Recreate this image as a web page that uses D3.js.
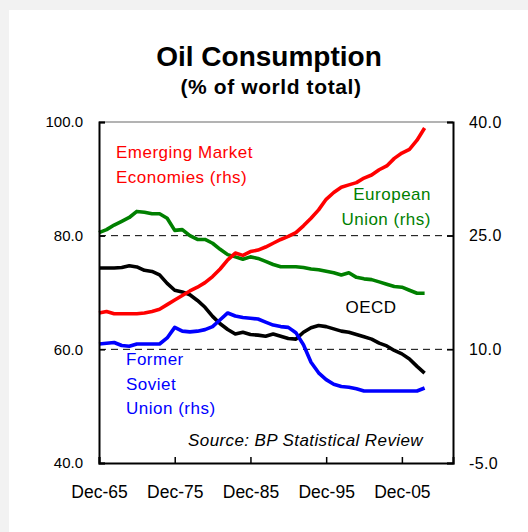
<!DOCTYPE html>
<html>
<head>
<meta charset="utf-8">
<script src="https://cdn.jsdelivr.net/npm/d3@7"></script>
<style>
  html, body { margin: 0; padding: 0; background: #f2f2f2; }
  #chartWrapper { width: 528px; height: 532px; }
  text { font-family: "Liberation Sans", Arial, sans-serif; }
</style>
</head>
<body>
<div id="chartWrapper"></div>
<script>

// chart data
const years = [1965, 1966, 1967, 1968, 1969, 1970, 1971, 1972, 1973, 1974,
  1975, 1976, 1977, 1978, 1979, 1980, 1981, 1982, 1983, 1984,
  1985, 1986, 1987, 1988, 1989, 1990, 1991, 1992, 1993, 1994,
  1995, 1996, 1997, 1998, 1999, 2000, 2001, 2002, 2003, 2004,
  2005, 2006, 2007, 2008]

// OECD, left hand scale
const oecd = [74.3, 74.3, 74.3, 74.4, 74.7, 74.5, 73.9, 73.7, 73.1, 71.6,
  70.4, 70.1, 69.6, 68.6, 67.4, 65.8, 64.5, 63.5, 62.7, 63.0,
  62.6, 62.5, 62.3, 62.7, 62.3, 61.9, 61.8, 63.0, 63.8, 64.2,
  64.0, 63.6, 63.2, 63.0, 62.6, 62.2, 61.8, 61.1, 60.6, 59.8,
  59.2, 58.3, 57.0, 55.8]

// right hand scale series
const emerging = [14.8, 15.0, 14.7, 14.7, 14.7, 14.7, 14.8, 15.0, 15.3, 15.9,
  16.5, 17.1, 17.7, 18.2, 18.8, 19.6, 20.6, 21.8, 22.7, 22.4,
  22.9, 23.1, 23.5, 24.0, 24.5, 24.9, 25.4, 26.3, 27.3, 28.4,
  29.8, 30.7, 31.4, 31.7, 32.0, 32.6, 33.0, 33.7, 34.2, 35.2,
  35.9, 36.4, 37.6, 39.2]

const europeanUnion = [25.4, 25.8, 26.4, 26.9, 27.4, 28.2, 28.1, 27.9, 27.9, 27.3,
  25.7, 25.8, 25.0, 24.5, 24.5, 24.0, 23.2, 22.5, 22.2, 21.9,
  22.2, 22.0, 21.6, 21.2, 20.9, 20.9, 20.9, 20.8, 20.6, 20.5,
  20.3, 20.1, 19.8, 20.1, 19.5, 19.3, 19.2, 18.9, 18.6, 18.3,
  18.2, 17.8, 17.4, 17.4]

const formerSoviet = [10.7, 10.8, 10.9, 10.5, 10.4, 10.7, 10.7, 10.7, 10.7, 11.5,
  12.9, 12.4, 12.3, 12.4, 12.6, 13.0, 13.9, 14.8, 14.4, 14.2,
  14.1, 14.0, 13.6, 13.2, 13.0, 12.9, 12.2, 10.6, 8.3, 6.9,
  6.0, 5.4, 5.1, 5.0, 4.8, 4.5, 4.5, 4.5, 4.5, 4.5,
  4.5, 4.5, 4.5, 4.9]

const xTickYears = [1965, 1975, 1985, 1995, 2005]
const xTickLabels = ["Dec-65", "Dec-75", "Dec-85", "Dec-95", "Dec-05"]
const leftTicks = [40, 60, 80, 100]
const rightTicks = [-5, 10, 25, 40]
const gridTicks = [60, 80]

function drawChart() {

  // 1. Dimensions
  let dimensions = {
    width: 528,
    height: 532,
    margin: {
      top: 122,
      right: 75,
      bottom: 69,
      left: 99,
    },
  }
  dimensions.boundedWidth = dimensions.width - dimensions.margin.left - dimensions.margin.right
  dimensions.boundedHeight = dimensions.height - dimensions.margin.top - dimensions.margin.bottom

  // 2. Canvas
  const wrapper = d3.select("#chartWrapper")
    .append("svg")
      .attr("width", dimensions.width)
      .attr("height", dimensions.height)

  wrapper.append("rect")
    .attr("width", dimensions.width)
    .attr("height", dimensions.height)
    .attr("fill", "#f2f2f2")

  wrapper.append("rect")
    .attr("x", 9)
    .attr("y", 10)
    .attr("width", dimensions.width - 9)
    .attr("height", dimensions.height - 10)
    .attr("fill", "#ffffff")

  wrapper.append("text")
    .attr("x", 269)
    .attr("y", 66)
    .attr("text-anchor", "middle")
    .style("font-size", "28px")
    .style("font-weight", "bold")
    .text("Oil Consumption")

  wrapper.append("text")
    .attr("x", 271)
    .attr("y", 94)
    .attr("text-anchor", "middle")
    .style("font-size", "21px")
    .style("font-weight", "bold")
    .style("letter-spacing", "0.6px")
    .text("(% of world total)")

  const bounds = wrapper.append("g")
    .attr("transform", `translate(${dimensions.margin.left}, ${dimensions.margin.top})`)

  // 3. Scales
  const xScale = d3.scaleLinear()
    .domain([1965, 2011.75])
    .range([0, dimensions.boundedWidth])

  const yLeft = d3.scaleLinear()
    .domain([40, 100])
    .range([dimensions.boundedHeight, 0])

  const yRight = d3.scaleLinear()
    .domain([-5, 40])
    .range([dimensions.boundedHeight, 0])

  // 4. Gridlines + frame
  bounds.append("g")
    .selectAll("line")
    .data(gridTicks)
    .join("line")
      .attr("x1", 0)
      .attr("x2", dimensions.boundedWidth)
      .attr("y1", d => yLeft(d))
      .attr("y2", d => yLeft(d))
      .attr("stroke", "#000")
      .attr("stroke-width", 1)
      .attr("stroke-dasharray", "7,5")

  bounds.append("line")
    .attr("x1", 0)
    .attr("x2", dimensions.boundedWidth)
    .attr("y1", 0)
    .attr("y2", 0)
    .attr("stroke", "#9a9a9a")
    .attr("stroke-width", 1.5)

  // 5. Lines
  const lineFor = scale => d3.line()
    .x((d, i) => xScale(years[i]))
    .y(d => scale(d))

  const series = [
    {values: oecd, scale: yLeft, color: "#000000"},
    {values: europeanUnion, scale: yRight, color: "#008000"},
    {values: emerging, scale: yRight, color: "#ff0000"},
    {values: formerSoviet, scale: yRight, color: "#0000ff"},
  ]

  bounds.append("g")
    .selectAll("path")
    .data(series)
    .join("path")
      .attr("d", d => lineFor(d.scale)(d.values))
      .attr("fill", "none")
      .attr("stroke", d => d.color)
      .attr("stroke-width", 3.6)
      .attr("stroke-linejoin", "round")

  // 6. Axes
  const oneDecimal = d => d.toFixed(1)   // plain hyphen for "-5.0"

  const leftAxis = d3.axisLeft(yLeft)
    .tickValues(leftTicks)
    .tickFormat(oneDecimal)
    .tickSize(-6)
    .tickPadding(16)

  const leftAxisGroup = bounds.append("g").call(leftAxis)

  const rightAxis = d3.axisRight(yRight)
    .tickValues(rightTicks)
    .tickFormat(oneDecimal)
    .tickSize(-6)
    .tickPadding(16)

  const rightAxisGroup = bounds.append("g")
    .attr("transform", `translate(${dimensions.boundedWidth}, 0)`)
    .call(rightAxis)

  const xAxis = d3.axisBottom(xScale)
    .tickValues(xTickYears)
    .tickFormat((d, i) => xTickLabels[i])
    .tickSize(-6)
    .tickPadding(23)

  const xAxisGroup = bounds.append("g")
    .attr("transform", `translate(0, ${dimensions.boundedHeight})`)
    .call(xAxis)

  for (const g of [leftAxisGroup, rightAxisGroup, xAxisGroup]) {
    g.select(".domain")
      .attr("stroke", "#000")
      .attr("stroke-width", 2)
    g.selectAll(".tick line")
      .attr("stroke", "#000")
      .attr("stroke-width", 1.5)
    g.selectAll("text")
      .attr("fill", "#000")
      .style("font-family", "'Liberation Sans', Arial, sans-serif")
  }
  leftAxisGroup.selectAll("text").style("font-size", "15px")
  rightAxisGroup.selectAll("text").style("font-size", "16px").style("letter-spacing", "0.4px")
  xAxisGroup.selectAll("text").style("font-size", "17.5px")

  // 7. Labels
  const labels = [
    {lines: ["Emerging Market", "Economies (rhs)"], x: 116, y: 158, anchor: "start", color: "#ff0000"},
    {lines: ["European", "Union (rhs)"], x: 431, y: 200, anchor: "end", color: "#008000"},
    {lines: ["OECD"], x: 371, y: 313, anchor: "middle", color: "#000000"},
    {lines: ["Former", "Soviet", "Union (rhs)"], x: 126, y: 365, anchor: "start", color: "#0000ff"},
  ]

  labels.forEach(label => {
    const t = wrapper.append("text")
      .attr("text-anchor", label.anchor)
      .attr("fill", label.color)
      .style("font-size", "17px")
      .style("letter-spacing", "0.5px")
    label.lines.forEach((line, i) => {
      t.append("tspan")
        .attr("x", label.x)
        .attr("y", label.y + i * 24.5)
        .text(line)
    })
  })

  wrapper.append("text")
    .attr("x", 423)
    .attr("y", 446)
    .attr("text-anchor", "end")
    .style("font-size", "17px")
    .style("font-style", "italic")
    .style("letter-spacing", "0.4px")
    .text("Source: BP Statistical Review")
}

drawChart()
</script>
</body>
</html>
